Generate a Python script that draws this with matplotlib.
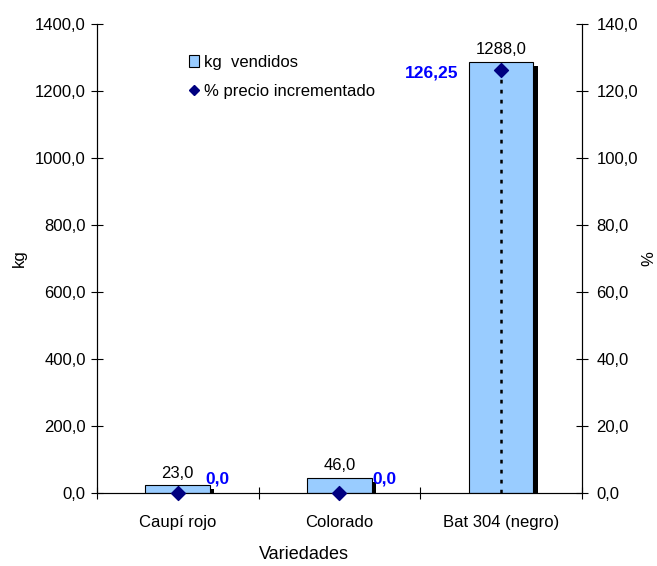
import matplotlib
matplotlib.use("Agg")
import matplotlib.pyplot as plt
import matplotlib.patheffects as pe
from matplotlib.lines import Line2D
from matplotlib.patches import Patch
from matplotlib.ticker import FuncFormatter, MultipleLocator

plt.rcParams['font.family'] = ['Liberation Sans', 'DejaVu Sans']

categories = ["Caupí rojo", "Colorado", "Bat 304 (negro)"]
kg_vendidos = [23.0, 46.0, 1288.0]
pct_precio = [0.0, 0.0, 126.25]
pct_labels = ["0,0", "0,0", "126,25"]

FS = 12

def comma_fmt(v, _pos=None):
    return f"{v:.1f}".replace(".", ",")

fig = plt.figure(figsize=(6.57, 5.66), dpi=100)
ax = fig.add_axes([0.1476, 0.129, 0.7382, 0.8286])
ax2 = ax.twinx()

x = list(range(len(categories)))
bars = ax.bar(x, kg_vendidos, width=0.4, color="#99CCFF", edgecolor="black",
              linewidth=0.8, zorder=2)
for b in bars:
    b.set_path_effects([pe.SimplePatchShadow(offset=(3, -3), shadow_rgbFace="black",
                                             alpha=1.0, rho=1.0), pe.Normal()])

for xi, v in zip(x, kg_vendidos):
    ax.annotate(comma_fmt(v), (xi, v), xytext=(0, 3), textcoords="offset points",
                ha="center", va="bottom", fontsize=FS, color="black")

ax.set_xlim(-0.5, 2.5)
ax.set_ylim(0, 1400)
ax.yaxis.set_major_locator(MultipleLocator(200))
ax.yaxis.set_major_formatter(FuncFormatter(comma_fmt))
ax.set_xticks(x)
ax.set_xticklabels(categories, fontsize=FS)
ax.set_xticks([-0.5, 0.5, 1.5, 2.5], minor=True)
ax.tick_params(axis="x", which="major", length=0, pad=16)
ax.tick_params(axis="x", which="minor", direction="inout", length=9, width=0.8)
ax.tick_params(axis="y", direction="inout", length=9, width=0.8, labelsize=FS)
ax.set_ylabel("kg", fontsize=FS, labelpad=6)
ax.set_xlabel("Variedades", fontsize=13)
ax.xaxis.set_label_coords(0.427, -0.113)
ax.spines["top"].set_visible(False)
ax.spines["bottom"].set_color("#404040")

ax2.set_ylim(0, 140)
ax2.yaxis.set_major_locator(MultipleLocator(20))
ax2.yaxis.set_major_formatter(FuncFormatter(comma_fmt))
ax2.tick_params(axis="y", direction="inout", length=9, width=0.8, labelsize=FS, pad=6)
ax2.set_ylabel("%", fontsize=FS, labelpad=2)
ax2.spines["top"].set_visible(False)

# drop lines from markers to the axis
for xi, p in zip(x, pct_precio):
    if p > 0:
        ax2.vlines(xi, 0, p, colors="black", linestyles=(0, (1.5, 2.5)), linewidth=1.8, zorder=3)
ax2.scatter(x, pct_precio, marker="D", s=50, color="#000080", zorder=4, clip_on=False)

offsets = [(20, 5), (24, 5), (-31, -2)]
for xi, p, lab, off in zip(x, pct_precio, pct_labels, offsets):
    ax2.annotate(lab, (xi, p), xytext=off, textcoords="offset points",
                 ha="left" if off[0] > 0 else "right", va="bottom" if off[1] > 0 else "center",
                 fontsize=12.5, fontweight="bold", color="#0000FF")

handles = [Patch(facecolor="#99CCFF", edgecolor="black", linewidth=0.8),
           Line2D([], [], marker="D", linestyle="none", color="#000080", markersize=5)]
fig.legend(handles, ["kg  vendidos", "% precio incrementado"], loc="upper left",
           bbox_to_anchor=(0.265, 0.93), frameon=False, fontsize=FS,
           handlelength=0.6, handletextpad=0.3, labelspacing=0.85)

fig.savefig("out.png", dpi=100)
